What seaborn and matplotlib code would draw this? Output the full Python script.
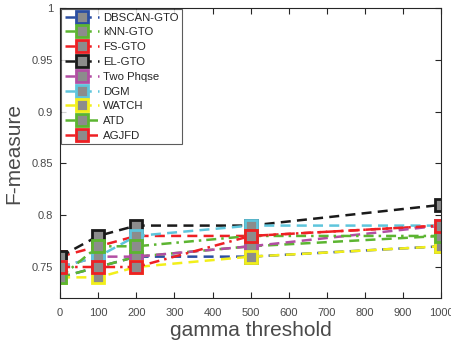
import matplotlib
matplotlib.use("Agg")
import matplotlib.pyplot as plt
import seaborn as sns
import pandas as pd

gamma = [0, 100, 200, 500, 1000]
names = ["DBSCAN-GTO", "kNN-GTO", "FS-GTO", "EL-GTO", "Two Phqse",
         "DGM", "WATCH", "ATD", "AGJFD"]
dbscan = [0.74, 0.75, 0.76, 0.76, 0.77]
knn = [0.74, 0.75, 0.76, 0.77, 0.78]
fs = [0.76, 0.77, 0.78, 0.78, 0.79]
el = [0.76, 0.78, 0.79, 0.79, 0.81]
two = [0.75, 0.76, 0.76, 0.77, 0.79]
dgm = [0.75, 0.76, 0.78, 0.79, 0.79]
watch = [0.74, 0.74, 0.75, 0.76, 0.77]
atd = [0.74, 0.77, 0.77, 0.78, 0.78]
agjfd = [0.75, 0.75, 0.75, 0.78, 0.79]
series = [dbscan, knn, fs, el, two, dgm, watch, atd, agjfd]

colors = ["#2b4ea2", "#5cb531", "#ee2024", "#1a1a1a", "#b24ea3",
          "#5ec5dc", "#f2ef1a", "#5cb531", "#ee2024"]
dashed = (0, (4, 2.5))
dashdot = (0, (4, 2, 1, 2))
styles = [dashed] * 7 + [dashdot, dashdot]

sns.set_style("white")
plt.rcParams['font.family'] = ['Liberation Sans', 'DejaVu Sans']

fig = plt.figure(figsize=(4.52, 3.54), dpi=100)
ax = fig.add_axes([0.133, 0.158, 0.843, 0.819])

for name, vals, c, ls in zip(names, series, colors, styles):
    df = pd.DataFrame({"gamma": gamma, "F": vals})
    sns.lineplot(data=df, x="gamma", y="F", ax=ax, color=c, linestyle=ls,
                 linewidth=1.8, marker="s", markersize=9,
                 markerfacecolor="#8c8c8c", markeredgecolor=c,
                 markeredgewidth=2.0, label=name)

ax.set_xlim(0, 1000)
ax.set_ylim(0.72, 1.0)
ax.set_xticks(range(0, 1001, 100))
ax.set_yticks([0.75, 0.8, 0.85, 0.9, 0.95, 1.0])
ax.set_yticklabels(["0.75", "0.8", "0.85", "0.9", "0.95", "1"])
ax.tick_params(direction="in", length=4, width=0.8, labelsize=8,
               colors="#262626", labelcolor="#4a4a4a", top=True, right=True,
               bottom=True, left=True, pad=5)
ax.tick_params(axis="x", pad=7)
for s in ax.spines.values():
    s.set_color("#262626")
    s.set_linewidth(0.8)
ax.set_xlabel("gamma threshold", fontsize=15, color="#4a4a4a", labelpad=2)
ax.set_ylabel("F-measure", fontsize=15, color="#4a4a4a", labelpad=6)

leg = ax.legend(loc="upper left", fontsize=8.2, frameon=True,
                fancybox=False, borderaxespad=0.1, handlelength=3.0,
                labelspacing=0.42, borderpad=0.3, handletextpad=0.4)
leg.get_frame().set_edgecolor("#333333")
leg.get_frame().set_linewidth(0.8)
for t in leg.get_texts():
    t.set_color("#262626")

fig.savefig("out.png", dpi=100)
